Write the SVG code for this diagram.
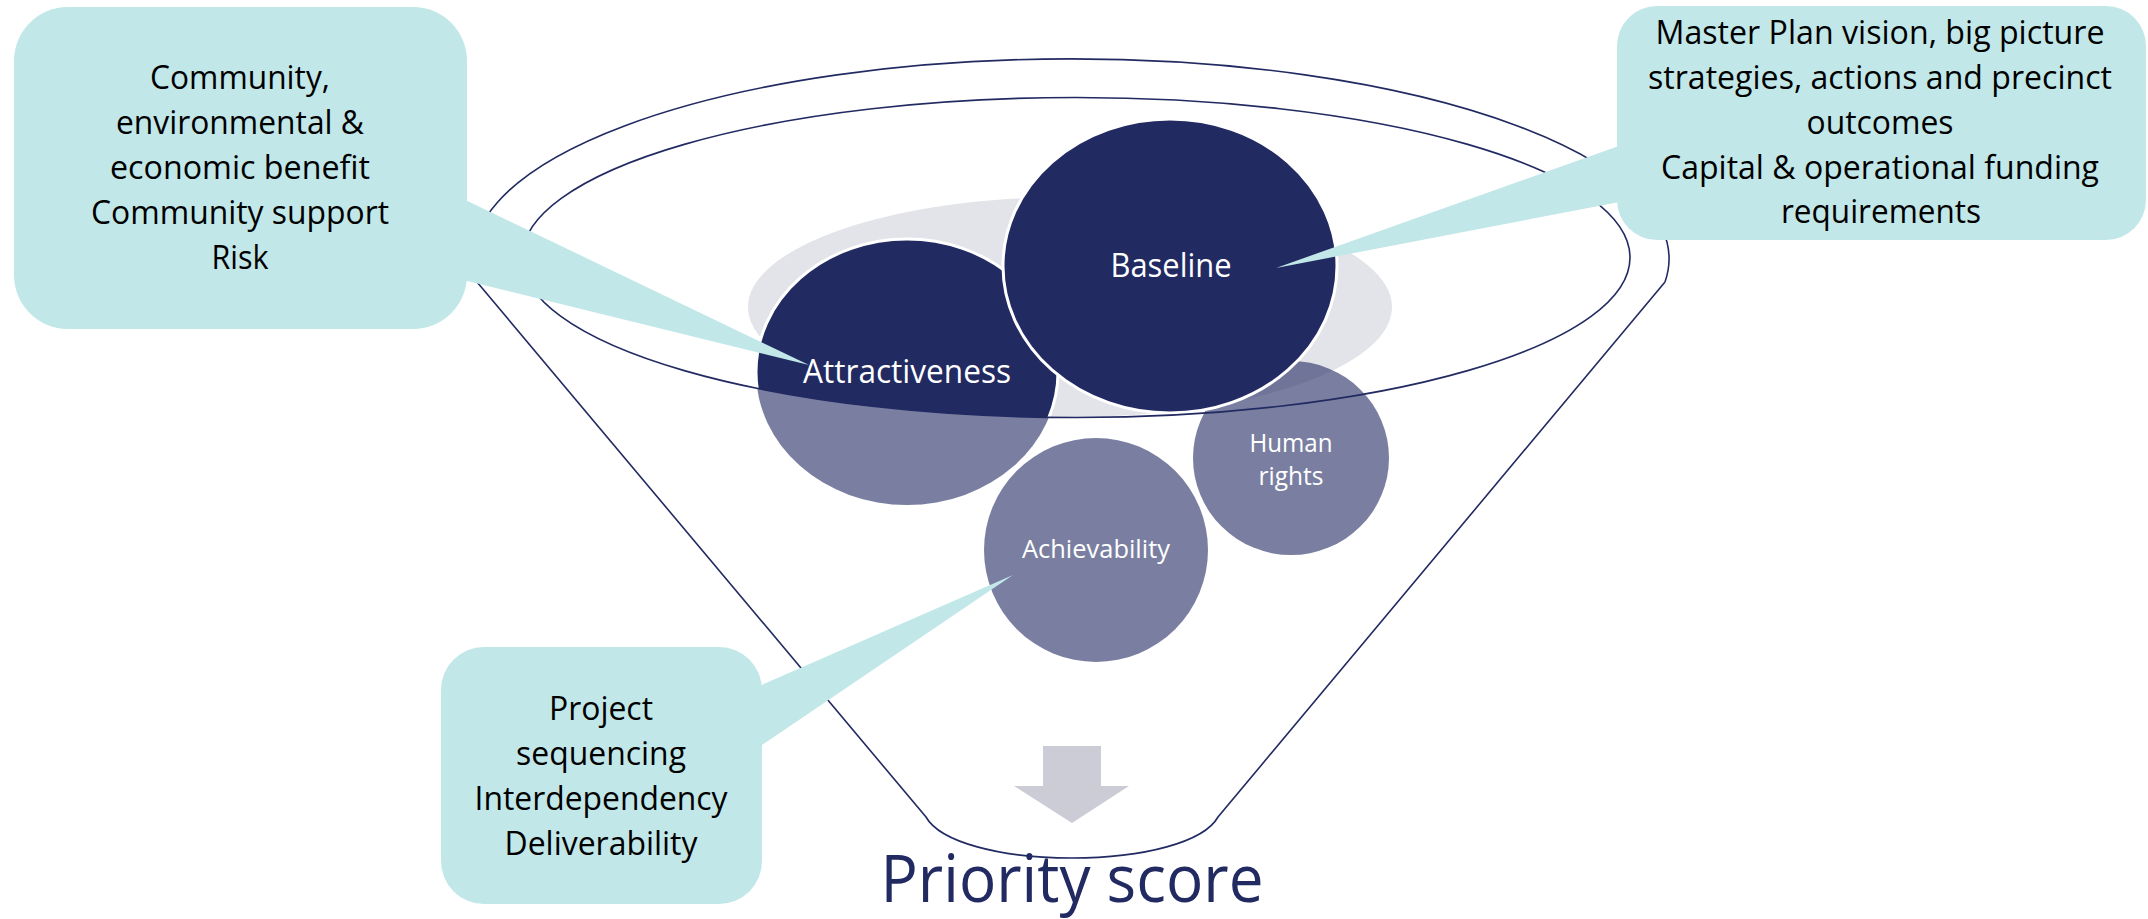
<svg xmlns="http://www.w3.org/2000/svg" width="2148" height="919" viewBox="0 0 2148 919">
<style>
.rim{fill:none;stroke:#222A62;stroke-width:1.6}
.dark{fill:#222A62;stroke:#ffffff;stroke-width:3}
.light{fill:#222A62;fill-opacity:0.6}
.box{fill:#C1E7E8}
.ct{font-family:"Open Sans","Liberation Sans",sans-serif;font-weight:400;font-size:32px;fill:#000000;text-anchor:middle}
.nt{font-family:"Open Sans","Liberation Sans",sans-serif;font-size:32px;fill:#ffffff;text-anchor:middle}
.st{font-family:"Open Sans","Liberation Sans",sans-serif;font-size:25px;fill:#ffffff;text-anchor:middle}
.pt{font-family:"Open Sans","Liberation Sans",sans-serif;font-size:66px;fill:#222A62;text-anchor:middle}
</style>
<defs>
<clipPath id="mouth"><ellipse cx="1076" cy="257.5" rx="554" ry="160"/></clipPath>
</defs>
<rect width="2148" height="919" fill="#ffffff"/>
<ellipse id="base-shadow" cx="1070" cy="307" rx="322" ry="110" fill="#E3E4E9"/>
<g id="human-rights">
<ellipse class="light" cx="1291" cy="458" rx="98" ry="97"/>
<text class="st" x="1291" y="452" textLength="83" lengthAdjust="spacingAndGlyphs">Human</text>
<text class="st" x="1291" y="485" textLength="65" lengthAdjust="spacingAndGlyphs">rights</text>
</g>
<g id="achievability">
<ellipse class="light" cx="1096" cy="550" rx="112" ry="112"/>
<text class="st" x="1096" y="558" textLength="148" lengthAdjust="spacingAndGlyphs">Achievability</text>
</g>
<g id="attractiveness">
<ellipse class="light" cx="907" cy="372" rx="151" ry="133"/>
<ellipse class="dark" cx="907" cy="372" rx="151" ry="133" clip-path="url(#mouth)"/>
<text class="nt" x="907" y="383" textLength="208" lengthAdjust="spacingAndGlyphs">Attractiveness</text>
</g>
<g id="baseline">
<ellipse class="dark" cx="1170" cy="266" rx="167" ry="147"/>
<text class="nt" x="1171" y="277" textLength="121" lengthAdjust="spacingAndGlyphs">Baseline</text>
</g>
<g id="funnel">
<path class="rim" d="M477,282 A598,200 0 1 1 1665,282"/>
<ellipse class="rim" cx="1076" cy="257.5" rx="554" ry="160"/>
<path class="rim" d="M477,282 L926,817 C940,842 1000,858 1072,858 C1144,858 1204,842 1218,817 L1665,282"/>
</g>
<g id="connectors">
<polygon class="box" points="455,195 809,365 455,278"/>
<polygon class="box" points="1630,142 1276,268 1630,200"/>
<polygon class="box" points="750,690 1013,575 750,753"/>
</g>
<g id="callout-left">
<rect class="box" x="14" y="7" width="453" height="322" rx="54" ry="54"/>
<text class="ct" x="240" y="89" textLength="180" lengthAdjust="spacingAndGlyphs">Community,</text>
<text class="ct" x="240" y="134" textLength="248" lengthAdjust="spacingAndGlyphs">environmental &amp;</text>
<text class="ct" x="240" y="179" textLength="260" lengthAdjust="spacingAndGlyphs">economic benefit</text>
<text class="ct" x="240" y="224" textLength="298" lengthAdjust="spacingAndGlyphs">Community support</text>
<text class="ct" x="240" y="269" textLength="57" lengthAdjust="spacingAndGlyphs">Risk</text>
</g>
<g id="callout-right">
<rect class="box" x="1617" y="6" width="529" height="234" rx="40" ry="40"/>
<text class="ct" x="1880" y="44" textLength="449" lengthAdjust="spacingAndGlyphs">Master Plan vision, big picture</text>
<text class="ct" x="1880" y="89" textLength="464" lengthAdjust="spacingAndGlyphs">strategies, actions and precinct</text>
<text class="ct" x="1880" y="134" textLength="147" lengthAdjust="spacingAndGlyphs">outcomes</text>
<text class="ct" x="1880" y="179" textLength="438" lengthAdjust="spacingAndGlyphs">Capital &amp; operational funding</text>
<text class="ct" x="1881" y="223" textLength="200" lengthAdjust="spacingAndGlyphs">requirements</text>
</g>
<g id="callout-bottom">
<rect class="box" x="441" y="647" width="321" height="257" rx="43" ry="43"/>
<text class="ct" x="601" y="720" textLength="104" lengthAdjust="spacingAndGlyphs">Project</text>
<text class="ct" x="601" y="765" textLength="170" lengthAdjust="spacingAndGlyphs">sequencing</text>
<text class="ct" x="601" y="810" textLength="253" lengthAdjust="spacingAndGlyphs">Interdependency</text>
<text class="ct" x="601" y="855" textLength="193" lengthAdjust="spacingAndGlyphs">Deliverability</text>
</g>
<g id="arrow">
<path d="M1043,746 H1101 V786 H1129 L1072,823 L1014,786 H1043 Z" fill="#CBCCD6"/>
</g>
<g id="priority-score">
<text class="pt" x="1072" y="902" textLength="383" lengthAdjust="spacingAndGlyphs">Priority score</text>
</g>
</svg>
